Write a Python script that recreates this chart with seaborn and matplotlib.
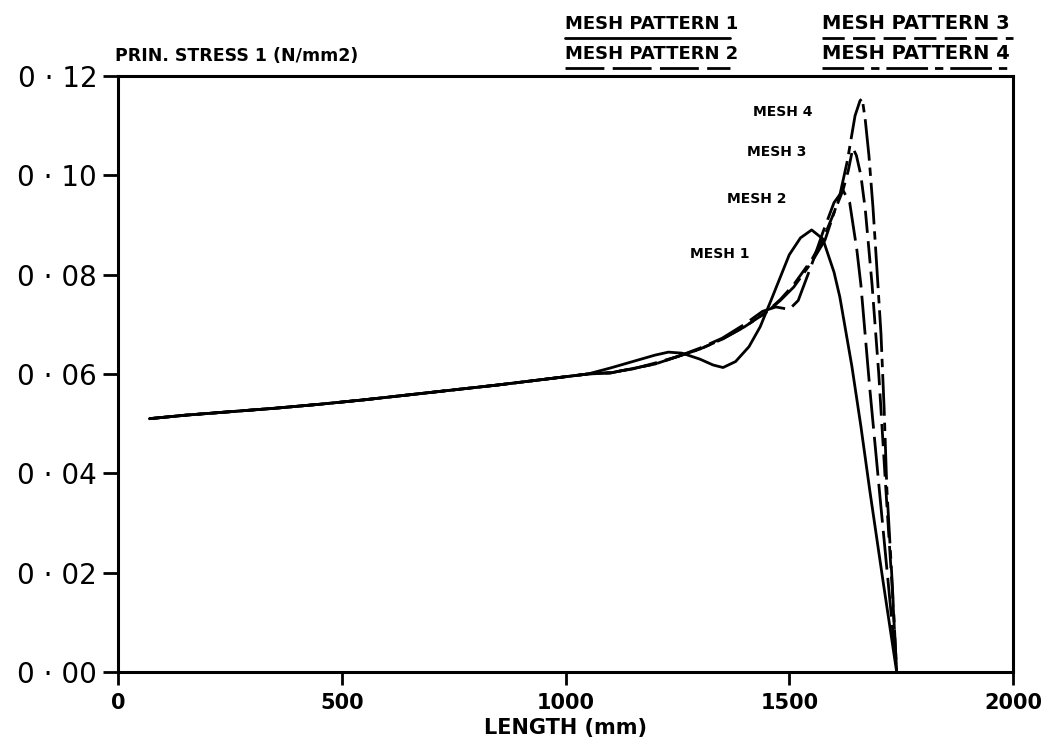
import numpy as np
import pandas as pd
import matplotlib
matplotlib.use("Agg")
import matplotlib.pyplot as plt
from matplotlib.lines import Line2D
import seaborn as sns

# Shared part of every curve (all meshes agree up to about 1050 mm)
length_common = [70, 150, 250, 350, 450, 550, 650, 750, 850, 950, 1050]
stress_common = [0.0510, 0.0517, 0.0524, 0.0531, 0.0539, 0.0548, 0.0558,
                 0.0568, 0.0578, 0.0589, 0.0600]

# Mesh-specific parts beyond 1050 mm
length_mesh1 = [1100, 1150, 1200, 1230, 1260, 1300, 1330, 1352, 1380, 1410,
                1435, 1460, 1480, 1500, 1525, 1550, 1575, 1600, 1613, 1640,
                1660, 1680, 1710, 1740]
stress_mesh1 = [0.0612, 0.0625, 0.0638, 0.0644, 0.0642, 0.0630, 0.0618,
                0.0613, 0.0625, 0.0655, 0.0695, 0.0750, 0.0795, 0.0840,
                0.0874, 0.0890, 0.0872, 0.0805, 0.0755, 0.0615, 0.0495,
                0.0365, 0.0180, 0.0]

length_mesh2 = [1100, 1150, 1200, 1250, 1300, 1350, 1400, 1440, 1470, 1500,
                1520, 1550, 1575, 1600, 1620, 1635, 1651, 1660, 1680, 1703,
                1720, 1740]
stress_mesh2 = [0.0603, 0.0610, 0.0622, 0.0635, 0.0652, 0.0672, 0.0700,
                0.0726, 0.0735, 0.0730, 0.0748, 0.0820, 0.0885, 0.0945,
                0.0970, 0.0945, 0.0850, 0.0780, 0.0570, 0.0350, 0.0190, 0.0]

length_mesh3 = [1100, 1200, 1300, 1350, 1400, 1450, 1480, 1510, 1550, 1575,
                1600, 1620, 1632, 1642, 1650, 1660, 1670, 1685, 1700, 1715,
                1730, 1740]
stress_mesh3 = [0.0602, 0.0620, 0.0650, 0.0670, 0.0695, 0.0725, 0.0750,
                0.0780, 0.0830, 0.0870, 0.0925, 0.0970, 0.1010, 0.1055,
                0.1040, 0.1000, 0.0930, 0.0780, 0.0600, 0.0380, 0.0170, 0.0]

length_mesh4 = [1100, 1200, 1300, 1350, 1400, 1450, 1480, 1510, 1550, 1580,
                1613, 1630, 1647, 1658, 1663, 1670, 1678, 1687, 1696, 1705,
                1712, 1718, 1730, 1740]
stress_mesh4 = [0.0602, 0.0620, 0.0650, 0.0670, 0.0695, 0.0725, 0.0748,
                0.0775, 0.0825, 0.0870, 0.0960, 0.1030, 0.1120, 0.1150,
                0.1155, 0.1110, 0.1040, 0.0936, 0.0810, 0.0680, 0.0530,
                0.0370, 0.0180, 0.0]

mesh_names = ["MESH 1", "MESH 2", "MESH 3", "MESH 4"]
legend_names = ["MESH PATTERN 1", "MESH PATTERN 2",
                "MESH PATTERN 3", "MESH PATTERN 4"]
x_ticks = [0, 500, 1000, 1500, 2000]
y_ticks = [0.00, 0.02, 0.04, 0.06, 0.08, 0.10, 0.12]
y_tick_labels = ["0 · 00", "0 · 02", "0 · 04", "0 · 06", "0 · 08",
                 "0 · 10", "0 · 12"]

series = {
    "MESH 1": (length_mesh1, stress_mesh1),
    "MESH 2": (length_mesh2, stress_mesh2),
    "MESH 3": (length_mesh3, stress_mesh3),
    "MESH 4": (length_mesh4, stress_mesh4),
}
frames = []
for name in mesh_names:
    xs, ys = series[name]
    frames.append(pd.DataFrame({
        "length": length_common + xs,
        "stress": stress_common + ys,
        "mesh": name,
    }))
df = pd.concat(frames, ignore_index=True)

sns.set_style("ticks")
plt.rcParams["font.family"] = ["DejaVu Sans"]
plt.rcParams["lines.scale_dashes"] = False
for key in ("text.color", "axes.labelcolor", "xtick.color", "ytick.color",
            "axes.edgecolor"):
    plt.rcParams[key] = "black"

dash_styles = {
    "MESH 1": "",
    "MESH 2": (28, 6),
    "MESH 3": (16, 6),
    "MESH 4": (30, 5, 6, 5),
}

fig = plt.figure(figsize=(10.49, 7.47), dpi=100)
ax = fig.add_axes([0.1125, 0.1004, 0.8532, 0.7979])

sns.lineplot(data=df, x="length", y="stress", hue="mesh", style="mesh",
             palette=["black"] * 4, dashes=dash_styles, estimator=None,
             sort=False, linewidth=2.0, legend=False, ax=ax)

ax.set_xlim(0, 2000)
ax.set_ylim(0, 0.12)
ax.set_xticks(x_ticks)
ax.set_xticklabels([str(t) for t in x_ticks], fontsize=15, fontweight="bold")
ax.set_yticks(y_ticks)
ax.set_yticklabels(y_tick_labels, fontsize=20)
ax.tick_params(axis="x", direction="out", length=9, width=2, pad=6)
ax.tick_params(axis="y", direction="out", length=11, width=2, pad=4)
for sp in ax.spines.values():
    sp.set_linewidth(2.2)
    sp.set_color("black")
ax.set_xlabel("LENGTH (mm)", fontsize=15, fontweight="bold", labelpad=4)
ax.set_ylabel("")

# Curve labels near the peaks
label_pos = {"MESH 4": (1486, 0.1127), "MESH 3": (1473, 0.1047),
             "MESH 2": (1428, 0.0952), "MESH 1": (1345, 0.0842)}
for name, (lx, ly) in label_pos.items():
    ax.text(lx, ly, name, ha="center", va="center", fontsize=10,
            fontweight="bold")

# Axis title above the frame
fig.text(0.110, 0.925, "PRIN. STRESS 1 (N/mm2)", fontsize=12.5,
         fontweight="bold", ha="left", va="center")

# Legend: names with a sample of each line style underneath
legend_layout = [(0.539, 0.968, 0.157, 13), (0.539, 0.928, 0.157, 13),
                 (0.784, 0.968, 0.182, 14), (0.784, 0.928, 0.182, 14)]
for name, label, (tx, ty, w, fs) in zip(mesh_names, legend_names,
                                        legend_layout):
    fig.text(tx, ty, label, fontsize=fs, fontweight="bold",
             ha="left", va="center")
    ls = "-" if dash_styles[name] == "" else (0, dash_styles[name])
    fig.add_artist(Line2D([tx, tx + w], [ty - 0.019, ty - 0.019],
                          transform=fig.transFigure, color="black",
                          linewidth=2.0, linestyle=ls))

fig.savefig("out.png", dpi=100, facecolor="white")
